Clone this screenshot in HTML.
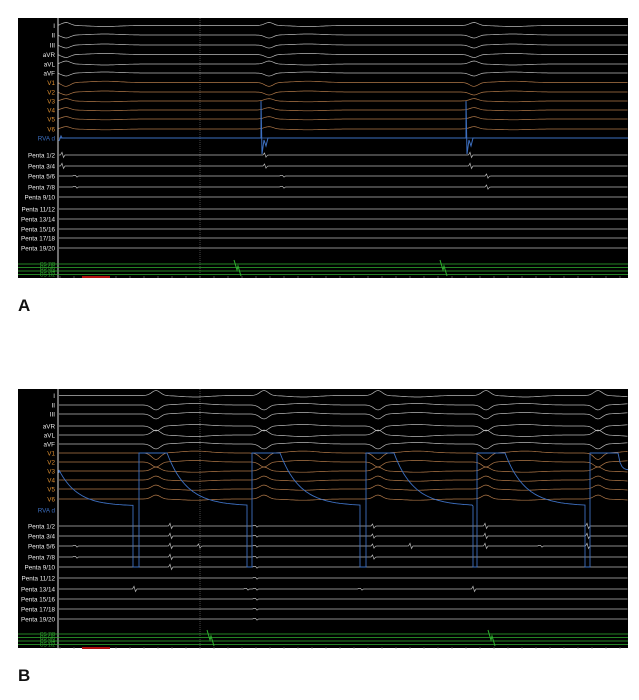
<!DOCTYPE html>
<html><head><meta charset="utf-8"><style>
html,body{margin:0;padding:0;background:#fff;width:639px;height:700px;overflow:hidden}
svg{display:block}
text{font-family:"Liberation Sans",sans-serif}
</style></head><body>
<svg id="s" width="639" height="700" xmlns="http://www.w3.org/2000/svg">
<rect x="18" y="18" width="610" height="260" fill="#000"/>
<rect x="18" y="389" width="610" height="259" fill="#000"/>
<text x="18" y="311" font-size="17" font-weight="bold" fill="#111">A</text>
<text x="18" y="681" font-size="17" font-weight="bold" fill="#111">B</text>
<g id="g"></g>
</svg>
<script>
var g=document.getElementById('g'),NS='http://www.w3.org/2000/svg';
function el(t,a,txt){var e=document.createElementNS(NS,t);for(var k in a)e.setAttribute(k,a[k]);if(txt)e.textContent=txt;g.appendChild(e);return e;}
var W='#b8b8b8',O='#b07848',B='#3d6fc0',G='#30b030';
var labels=['I','II','III','aVR','aVL','aVF','V1','V2','V3','V4','V5','V6','RVA d','Penta 1/2','Penta 3/4','Penta 5/6','Penta 7/8','Penta 9/10','Penta 11/12','Penta 13/14','Penta 15/16','Penta 17/18','Penta 19/20'];
function col(i){return i<6?W:(i<12?O:(i==12?B:W));}
function bump(x,c,w,a){var d=(x-c)/w;return a*Math.exp(-d*d);}
var sg=[-1,1,1,1,-1,1,1.3,1,-0.8,-0.8,-0.8,-0.8];
function panel(top,ys,beats,amp,cs,spikes){
  el('line',{x1:58,y1:top,x2:58,y2:top+260,stroke:'#ddd','stroke-width':1});
  el('line',{x1:200,y1:top,x2:200,y2:top+260,stroke:'#777','stroke-width':0.6,'stroke-dasharray':'1,1'});
  for(var x=60;x<628;x+=14)el('line',{x1:x,y1:top+258,x2:x,y2:top+260,stroke:'#777','stroke-width':0.6});
  el('rect',{x:82,y:top+258,width:28,height:2,fill:'#b01010'});
  labels.forEach(function(L,i){
    var y=ys[i];
    el('text',{x:55,y:y+2.5,'font-size':6.3,'text-anchor':'end',fill:i==12?B:(i>=6&&i<12?'#e09030':'#eee')},L);
    if(i==12 && amp.rva) return;
    var d='M59 '+y;
    for(var x=59;x<=628;x+=1.5){
      var v=0;
      beats.forEach(function(b){
        if(i<12){var s=sg[i];v+=bump(x,b+6,6,amp.q*s)+bump(x,b+45,20,-amp.t*s);}
      });
      if(i>12&&spikes){spikes.forEach(function(sp){if(sp[1].indexOf(i-13)>=0){v+=bump(x,sp[0],0.8,-3)+bump(x,sp[0]+1.2,0.8,3);}});}
      d+=' L'+x.toFixed(1)+' '+(y+v).toFixed(1);
    }
    el('path',{d:d,fill:'none',stroke:col(i),'stroke-width':0.7});
  });
  cs.ys.forEach(function(y){el('line',{x1:18,y1:y,x2:628,y2:y,stroke:G,'stroke-width':0.8});});
  ['CS 7/8','CS 5/6','CS 3/4','CS 1/2'].forEach(function(t,j){el('text',{x:55,y:cs.ys[j]+2,'font-size':5,'text-anchor':'end',fill:G},t);});
  cs.x.forEach(function(x){el('path',{d:'M'+x+' '+(cs.ys[0]-4)+' l3 10 l1 -4 l3 10',fill:'none',stroke:G,'stroke-width':1});});
}
// Panel A
var ysA=[25.5,35,45,54.5,64,73,82.5,92,101,110,119,129,138,155,166,176,187,197,209,219,229,238,248];
panel(18,ysA,[60,263,468],{q:3,t:1},{ys:[264,267.5,271,274.5],x:[234,440]},
 [[62,[0,1]],[75,[2,3]],[265,[0,1]],[282,[2,3]],[470,[0,1]],[487,[2,3]]]);
el('path',{d:'M59 141 L61 136 L62 138 L261 138 L261 101 L262 154 L264 140 L266 146 L268 138 L466 138 L466 101 L467 154 L469 140 L471 146 L473 138 L628 138',fill:'none',stroke:B,'stroke-width':1});
// Panel B
var ysB=[395.5,405,414,426,435,444,453,462,471,480,489,499,510,526,536,546,557,567,578,589,599,609,619];
panel(389,ysB,[150,258,372,480,592],{q:5,t:1.5,rva:1},{ys:[634,637.5,641,644.5],x:[207,488]},
  [[75,[2,3]],[134,[6]],[170,[0,1,2,3,4]],[199,[2]],[255,[0,1,2,3,4,5,6,7,8,9]],[246,[6]],[360,[6]],[373,[0,1,2,3]],[410,[2]],[473,[6]],[485,[0,1,2]],[540,[2]],[587,[0,1,2]]]);
var d='M59 473';
function decay(x0,x1,yTop,yEnd){var s='';for(var x=x0;x<=x1;x+=2){var t=(x-x0)/(x1-x0);s+=' L'+x+' '+(yEnd+(yTop-yEnd)*Math.exp(-t*4)).toFixed(1);}return s;}
d+=decay(59,133,470,506)+' L133 506 L133 567 L139 567 L139 453 L167 453'+decay(167,247,453,506)+' L247 506 L247 567 L252 567 L252 453 L280 453'+decay(280,360,453,506)+' L360 506 L360 567 L366 567 L366 453 L394 453'+decay(394,473,453,506)+' L473 506 L473 567 L477 567 L477 453 L505 453'+decay(505,585,453,506)+' L585 506 L585 567 L590 567 L590 453 L618 453'+decay(618,628,453,470);
el('path',{d:d,fill:'none',stroke:B,'stroke-width':0.9});
</script>
</body></html>
